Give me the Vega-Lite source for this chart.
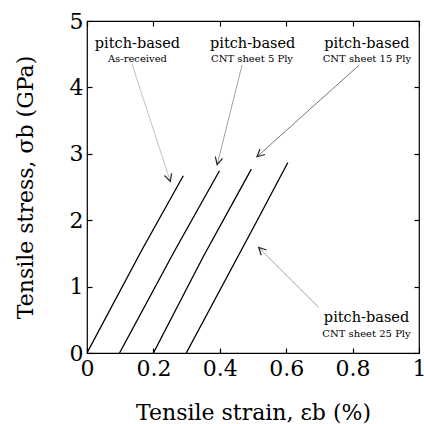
{
  "$schema": "https://vega.github.io/schema/vega-lite/v6.json",
  "width": 332,
  "height": 332,
  "autosize": "none",
  "padding": {"left": 87, "top": 21, "right": 5, "bottom": 71},
  "background": "white",
  "config": {
    "view": {"stroke": "black", "strokeWidth": 1.2},
    "axis": {"grid": false, "domain": false, "tickColor": "black", "labelColor": "black", "titleColor": "black", "labelFont": "DejaVu Serif", "titleFont": "DejaVu Serif", "titleFontWeight": "normal", "labelFontSize": 22, "titleFontSize": 22, "tickSize": -5, "tickWidth": 1.2}
  },
  "datasets": {
    "curves": [
      {"series": "As-received", "strain": 0.0, "stress": 0.0},
      {"series": "As-received", "strain": 0.164, "stress": 1.54},
      {"series": "As-received", "strain": 0.29, "stress": 2.67},
      {"series": "5 Ply", "strain": 0.098, "stress": 0.0},
      {"series": "5 Ply", "strain": 0.264, "stress": 1.54},
      {"series": "5 Ply", "strain": 0.399, "stress": 2.745},
      {"series": "15 Ply", "strain": 0.2, "stress": 0.0},
      {"series": "15 Ply", "strain": 0.35, "stress": 1.45},
      {"series": "15 Ply", "strain": 0.495, "stress": 2.77},
      {"series": "25 Ply", "strain": 0.299, "stress": 0.0},
      {"series": "25 Ply", "strain": 0.513, "stress": 2.0},
      {"series": "25 Ply", "strain": 0.605, "stress": 2.87}
    ],
    "arrows": [
      {"id": "a1", "x": 0.1355, "y": 4.352, "x2": 0.251, "y2": 2.584},
      {"id": "a2", "x": 0.467, "y": 4.337, "x2": 0.392, "y2": 2.836},
      {"id": "a3", "x": 0.82, "y": 4.337, "x2": 0.512, "y2": 2.956},
      {"id": "a4", "x": 0.698, "y": 0.687, "x2": 0.517, "y2": 1.59}
    ],
    "labels": [
      {"text": "pitch-based", "kind": "main", "x": 0.152, "y": 4.6},
      {"text": "As-received", "kind": "sub", "x": 0.152, "y": 4.38},
      {"text": "pitch-based", "kind": "main", "x": 0.499, "y": 4.6},
      {"text": "CNT sheet 5 Ply", "kind": "sub", "x": 0.497, "y": 4.38},
      {"text": "pitch-based", "kind": "main", "x": 0.843, "y": 4.6},
      {"text": "CNT sheet 15 Ply", "kind": "sub", "x": 0.843, "y": 4.38},
      {"text": "pitch-based", "kind": "main", "x": 0.842, "y": 0.465},
      {"text": "CNT sheet 25 Ply", "kind": "sub", "x": 0.842, "y": 0.245}
    ]
  },
  "resolve": {"scale": {"x": "independent", "y": "independent"}, "axis": {"x": "independent", "y": "independent"}},
  "layer": [
    {
      "encoding": {
        "x": {"type": "quantitative", "scale": {"domain": [0, 1], "nice": false, "zero": false},
              "axis": {"values": [0, 0.2, 0.4, 0.6, 0.8, 1], "format": "~g", "labelPadding": 10, "title": "Tensile strain, εb (%)", "titleX": 166, "titleY": 66, "titleBaseline": "alphabetic", "labelFlush": false, "labelOverlap": false}},
        "y": {"type": "quantitative", "scale": {"domain": [0, 5], "nice": false, "zero": false},
              "axis": {"values": [0, 1, 2, 3, 4, 5], "labelPadding": 9, "title": "Tensile stress, σb (GPa)", "titleX": -55, "titleY": 166, "titleBaseline": "alphabetic", "titleAngle": -90, "labelFlush": false, "labelOverlap": false}}
      },
      "layer": [
        {
          "data": {"name": "curves"},
          "mark": {"type": "line", "color": "black", "strokeWidth": 1.3, "clip": true},
          "encoding": {
            "x": {"field": "strain", "type": "quantitative"},
            "y": {"field": "stress", "type": "quantitative"},
            "detail": {"field": "series"}
          }
        },
        {
          "data": {"name": "arrows"},
          "mark": {"type": "rule", "strokeWidth": 0.9},
          "encoding": {
            "x": {"field": "x", "type": "quantitative"},
            "y": {"field": "y", "type": "quantitative"},
            "x2": {"field": "x2"},
            "y2": {"field": "y2"},
            "color": {"field": "id", "type": "nominal", "legend": null, "scale": {"domain": ["a1", "a2", "a3", "a4"], "range": ["#bbbbbb", "#999999", "#666666", "#999999"]}}
          }
        },
        {
          "data": {"name": "arrows"},
          "transform": [{"filter": "datum.id === 'a1'"}],
          "mark": {"type": "point", "shape": "M -0.5 1 L 0 0 L 0.5 1", "filled": false, "size": 220, "strokeWidth": 1.2, "color": "#222222", "opacity": 1, "angle": 161.9},
          "encoding": {"x": {"field": "x2", "type": "quantitative"}, "y": {"field": "y2", "type": "quantitative"}}
        },
        {
          "data": {"name": "arrows"},
          "transform": [{"filter": "datum.id === 'a2'"}],
          "mark": {"type": "point", "shape": "M -0.5 1 L 0 0 L 0.5 1", "filled": false, "size": 220, "strokeWidth": 1.2, "color": "#222222", "opacity": 1, "angle": 194.1},
          "encoding": {"x": {"field": "x2", "type": "quantitative"}, "y": {"field": "y2", "type": "quantitative"}}
        },
        {
          "data": {"name": "arrows"},
          "transform": [{"filter": "datum.id === 'a3'"}],
          "mark": {"type": "point", "shape": "M -0.5 1 L 0 0 L 0.5 1", "filled": false, "size": 220, "strokeWidth": 1.2, "color": "#222222", "opacity": 1, "angle": 228.1},
          "encoding": {"x": {"field": "x2", "type": "quantitative"}, "y": {"field": "y2", "type": "quantitative"}}
        },
        {
          "data": {"name": "arrows"},
          "transform": [{"filter": "datum.id === 'a4'"}],
          "mark": {"type": "point", "shape": "M -0.5 1 L 0 0 L 0.5 1", "filled": false, "size": 220, "strokeWidth": 1.2, "color": "#222222", "opacity": 1, "angle": 315},
          "encoding": {"x": {"field": "x2", "type": "quantitative"}, "y": {"field": "y2", "type": "quantitative"}}
        },
        {
          "data": {"name": "labels"},
          "mark": {"type": "text", "align": "center", "baseline": "alphabetic", "color": "black", "font": "DejaVu Serif"},
          "encoding": {
            "x": {"field": "x", "type": "quantitative"},
            "y": {"field": "y", "type": "quantitative"},
            "text": {"field": "text"},
            "size": {"field": "kind", "type": "nominal", "legend": null, "scale": {"domain": ["main", "sub"], "range": [14.5, 10]}}
          }
        }
      ]
    },
    {
      "data": {"name": "curves"},
      "mark": {"type": "line", "opacity": 0},
      "encoding": {
        "x": {"field": "strain", "type": "quantitative", "scale": {"domain": [0, 1], "nice": false, "zero": false}, "axis": {"orient": "top", "values": [0, 0.2, 0.4, 0.6, 0.8, 1], "labels": false, "title": null}},
        "y": {"field": "stress", "type": "quantitative", "scale": {"domain": [0, 5], "nice": false, "zero": false}, "axis": {"orient": "right", "values": [0, 1, 2, 3, 4, 5], "labels": false, "title": null}},
        "detail": {"field": "series"}
      }
    }
  ]
}
